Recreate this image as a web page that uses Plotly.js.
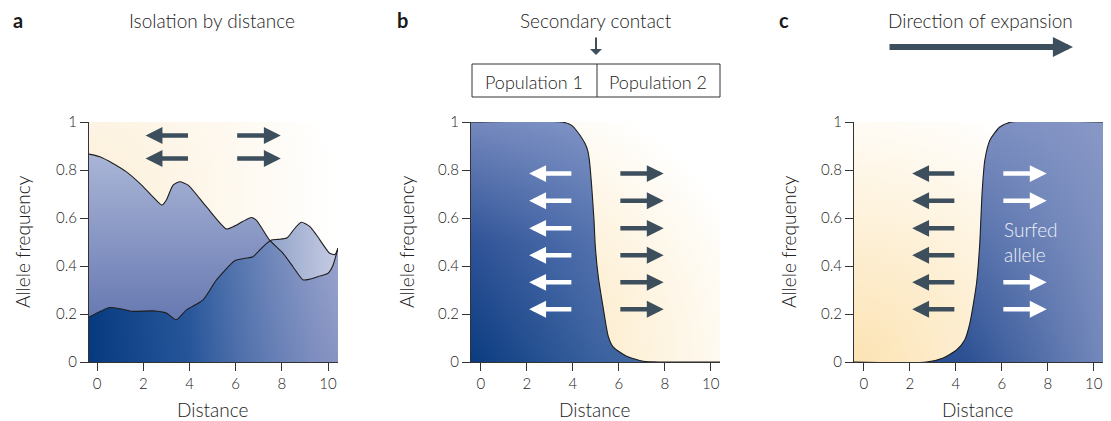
<!DOCTYPE html>
<html><head><meta charset="utf-8">
<script src="https://cdn.plot.ly/plotly-3.0.1.min.js"></script>
<style>html,body{margin:0;padding:0;background:#fff}#chart{width:1111px;height:421px}</style>
</head><body><div id="chart"></div>
<script>
// ---------- DATA ----------
// Panel a: isolation by distance (two allele-frequency curves)
const distA1 = [-0.35, 0.12, 0.69, 1.27, 1.85, 2.42, 2.81, 3.0, 3.29, 3.58, 3.94, 4.73, 5.6, 5.89, 6.3, 6.68, 6.9, 7.47, 8.05, 8.48, 8.92, 9.2, 9.6, 10.0, 10.2, 10.43];
const freqA1 = [0.866, 0.855, 0.827, 0.792, 0.744, 0.688, 0.654, 0.675, 0.737, 0.751, 0.737, 0.647, 0.554, 0.564, 0.585, 0.602, 0.59, 0.508, 0.453, 0.397, 0.342, 0.345, 0.357, 0.37, 0.40, 0.474];
const distA2 = [-0.35, 0.55, 1.0, 1.56, 2.42, 3.0, 3.43, 3.87, 4.59, 5.17, 5.96, 6.4, 6.75, 7.19, 7.55, 7.84, 8.23, 8.5, 8.84, 9.2, 9.5, 10.07, 10.3, 10.43];
const freqA2 = [0.187, 0.227, 0.222, 0.211, 0.213, 0.204, 0.176, 0.217, 0.259, 0.342, 0.422, 0.432, 0.439, 0.481, 0.508, 0.511, 0.518, 0.55, 0.582, 0.565, 0.529, 0.453, 0.448, 0.474];
// Panel b: secondary contact (cline)
const distB = [-0.43, 3.52, 3.95, 4.31, 4.53, 4.65, 4.72, 4.82, 4.92, 4.97, 5.1, 5.33, 5.54, 5.76, 6.34, 7.06, 7.9, 10.4];
const freqB = [1, 1, 0.986, 0.945, 0.91, 0.88, 0.84, 0.73, 0.59, 0.49, 0.36, 0.22, 0.107, 0.062, 0.024, 0.003, 0, 0];
// Panel c: surfing allele
const distC = [-0.43, 2.72, 3.45, 4.03, 4.39, 4.61, 4.9, 5.04, 5.14, 5.26, 5.48, 5.91, 6.42, 10.4];
const freqC = [0, 0, 0.017, 0.05, 0.093, 0.162, 0.328, 0.494, 0.702, 0.841, 0.924, 0.979, 1, 1];

const xTicks = [0, 2, 4, 6, 8, 10];
const yTicks = [0, 0.2, 0.4, 0.6, 0.8, 1];
const panelLabels = ['a', 'b', 'c'];
const panelTitles = ['Isolation by distance', 'Secondary contact', 'Direction of expansion'];
const populations = ['Population 1', 'Population 2'];
const surfedLabel = 'Surfed<br>allele';
const xTitle = 'Distance';
const yTitle = 'Allele frequency';

// arrow rows (allele-frequency level) and spans (distance)
const arrowRowsA = [0.944, 0.848];
const arrowRowsB = [0.785, 0.672, 0.557, 0.445, 0.332, 0.220];
const arrowRowsCLeft = [0.785, 0.672, 0.557, 0.445, 0.332, 0.220];
const arrowRowsCRight = [0.785, 0.672, 0.332, 0.220];
const leftArrowSpan = [4.0, 2.1];   // tail, head
const rightArrowSpan = [6.0, 7.95]; // tail, head

// ---------- STYLE ----------
const W = 1111, H = 421;
const FONT = 'Lato, "Open Sans", sans-serif';
const TXT = '#222222';
const LINE = '#333333';
const ARROW = '#3d4f5c';
const px = v => v / W, py = v => 1 - v / H;

function axisX(dom, rng, anchor) {
  return {domain: [px(dom[0]), px(dom[1])], range: rng, anchor: anchor, tickvals: xTicks,
    ticks: 'outside', ticklen: 8, tickwidth: 1, tickcolor: LINE, showline: true, linecolor: LINE, linewidth: 1,
    showgrid: false, zeroline: false, tickfont: {family: FONT, size: 15, color: TXT, weight: 300}, fixedrange: true};
}
function axisY(anchor) {
  return {domain: [py(362), py(122)], range: [0, 1], anchor: anchor, tickvals: yTicks,
    ticks: 'outside', ticklen: 8, tickwidth: 1, tickcolor: LINE, showline: true, linecolor: LINE, linewidth: 1,
    showgrid: false, zeroline: false, tickfont: {family: FONT, size: 15, color: TXT, weight: 300}, fixedrange: true};
}
function fillTrace(x, y, xa, ya, grad) {
  return {x: x, y: y, xaxis: xa, yaxis: ya, mode: 'lines', line: {width: 0, shape: 'spline', smoothing: 0.6},
    fill: 'tozeroy', fillgradient: grad, hoverinfo: 'skip', showlegend: false};
}
function lineTrace(x, y, xa, ya) {
  return {x: x, y: y, xaxis: xa, yaxis: ya, mode: 'lines', line: {width: 1.1, color: '#1e1e1e', shape: 'spline', smoothing: 0.6},
    hoverinfo: 'skip', showlegend: false};
}

const traces = [
  // panel a
  fillTrace(distA1, freqA1, 'x', 'y', {type: 'vertical', start: 0, stop: 0.87, colorscale: [[0, '#5669a8'], [1, '#aab6d7']]}),
  fillTrace(distA2, freqA2, 'x', 'y', {type: 'horizontal', colorscale: [[0, 'rgba(3,56,125,0.97)'], [0.4, 'rgba(30,81,151,0.87)'], [1, 'rgba(165,173,211,0.63)']]}),
  lineTrace(distA1, freqA1, 'x', 'y'),
  lineTrace(distA2, freqA2, 'x', 'y'),
  // panel b
  fillTrace(distB, freqB, 'x2', 'y2', {type: 'vertical', start: 0, stop: 1, colorscale: [[0, '#0a3b80'], [0.5, '#2f5397'], [1, '#7488bd']]}),
  fillTrace(distB, freqB, 'x2', 'y2', {type: 'horizontal', start: -0.43, stop: 10.4, colorscale: [[0, 'rgba(150,170,215,0)'], [0.5, 'rgba(150,170,215,0.34)'], [1, 'rgba(150,170,215,0.5)']]}),
  lineTrace(distB, freqB, 'x2', 'y2'),
  // panel c
  fillTrace(distC, freqC, 'x3', 'y3', {type: 'vertical', start: 0, stop: 1, colorscale: [[0, '#2a4f92'], [1, '#7a8dc0']]}),
  fillTrace(distC, freqC, 'x3', 'y3', {type: 'horizontal', start: 4.3, stop: 10.4, colorscale: [[0, 'rgba(140,155,200,0)'], [1, 'rgba(140,155,200,0.75)']]}),
  lineTrace(distC, freqC, 'x3', 'y3')
];

function bgImage(xr, yr, cy, r, c0) {
  const svg = `<svg xmlns="http://www.w3.org/2000/svg" width="200" height="200" viewBox="0 0 200 200" preserveAspectRatio="none"><defs><radialGradient id="g" gradientUnits="userSpaceOnUse" cx="0" cy="${cy}" r="${r}"><stop offset="0" stop-color="${c0}"/><stop offset="1" stop-color="#ffffff"/></radialGradient></defs><rect width="200" height="200" fill="url(#g)"/></svg>`;
  return {source: 'data:image/svg+xml;charset=utf-8,' + encodeURIComponent(svg), xref: xr + ' domain', yref: yr + ' domain',
    x: 0, y: 1, sizex: 1, sizey: 1, xanchor: 'left', yanchor: 'top', sizing: 'stretch', layer: 'below'};
}

const ann = [];
function arrow(xa, ya, tail, head, y, color, w, hd, sz) {
  ann.push({xref: xa, yref: ya, axref: xa, ayref: ya, x: head, y: y, ax: tail, ay: y, text: '', showarrow: true,
    arrowhead: hd, arrowsize: sz, arrowwidth: w, arrowcolor: color, standoff: 0, startstandoff: 0});
}
arrowRowsA.forEach(v => { arrow('x', 'y', leftArrowSpan[0], leftArrowSpan[1], v, ARROW, 4.5, 2, 0.75);
                          arrow('x', 'y', rightArrowSpan[0], rightArrowSpan[1], v, ARROW, 4.5, 2, 0.75); });
arrowRowsB.forEach(v => { arrow('x2', 'y2', leftArrowSpan[0], leftArrowSpan[1], v, '#ffffff', 4.5, 2, 0.75);
                          arrow('x2', 'y2', rightArrowSpan[0], rightArrowSpan[1], v, ARROW, 4.5, 2, 0.75); });
arrowRowsCLeft.forEach(v => arrow('x3', 'y3', leftArrowSpan[0], leftArrowSpan[1], v, ARROW, 4.5, 2, 0.75));
arrowRowsCRight.forEach(v => arrow('x3', 'y3', rightArrowSpan[0], rightArrowSpan[1], v, '#ffffff', 4.5, 2, 0.75));

function text(t, x, y, size, opts) {
  ann.push(Object.assign({xref: 'paper', yref: 'paper', x: px(x), y: py(y), text: t, showarrow: false,
    xanchor: 'center', yanchor: 'middle', font: {family: FONT, size: size, color: TXT, weight: 300}}, opts || {}));
}
// panel letters and titles
[[18, 20], [402, 20], [784, 20]].forEach((p, i) => text('<b>' + panelLabels[i] + '</b>', p[0], p[1], 20, {font: {family: FONT, size: 20, color: '#1a1a1a'}}));
[[212, 21], [596, 21], [980, 21]].forEach((p, i) => text(panelTitles[i], p[0], p[1], 19));
// axis titles
[212, 594, 977].forEach(x => text(xTitle, x, 409, 19));
[22, 406, 788].forEach(x => text(yTitle, x, 242, 19, {textangle: -90}));
// population box labels
text(populations[0], 534, 82, 18);
text(populations[1], 658, 82, 18);
// surfed allele label
ann.push({xref: 'x3', yref: 'y3', x: 6.0, y: 0.5, text: surfedLabel, showarrow: false, xanchor: 'left', yanchor: 'middle',
  align: 'left', font: {family: FONT, size: 19, color: '#eef0f8', weight: 300}});
// secondary contact arrow
ann.push({xref: 'paper', yref: 'paper', x: px(596), y: py(55), ax: 0, ay: -19, text: '', showarrow: true,
  arrowhead: 1, arrowsize: 1, arrowwidth: 2, arrowcolor: ARROW, standoff: 0});
// direction of expansion arrow
ann.push({xref: 'paper', yref: 'paper', x: px(1073), y: py(47), ax: -185, ay: 0, text: '', showarrow: true,
  arrowhead: 2, arrowsize: 0.67, arrowwidth: 6, arrowcolor: ARROW, standoff: 0});

const layout = {
  width: W, height: H, margin: {l: 0, r: 0, t: 0, b: 0}, paper_bgcolor: '#ffffff', plot_bgcolor: '#ffffff',
  showlegend: false, font: {family: FONT, color: TXT},
  xaxis: axisX([89, 338], [-0.35, 10.43], 'y'), yaxis: axisY('x'),
  xaxis2: axisX([471, 720], [-0.43, 10.4], 'y2'), yaxis2: axisY('x2'),
  xaxis3: axisX([854, 1103], [-0.43, 10.4], 'y3'), yaxis3: axisY('x3'),
  images: [bgImage('x', 'y', 60, 200, '#fcefd8'), bgImage('x2', 'y2', 200, 240, '#fbe0ab'), bgImage('x3', 'y3', 200, 230, '#fce3b3')],
  shapes: [
    {type: 'rect', xref: 'paper', yref: 'paper', x0: px(472), x1: px(720), y0: py(97), y1: py(64), line: {color: LINE, width: 1}},
    {type: 'line', xref: 'paper', yref: 'paper', x0: px(597), x1: px(597), y0: py(97), y1: py(64), line: {color: LINE, width: 1}}
  ],
  annotations: ann
};
Plotly.newPlot('chart', traces, layout, {displayModeBar: false, staticPlot: true});
</script></body></html>
